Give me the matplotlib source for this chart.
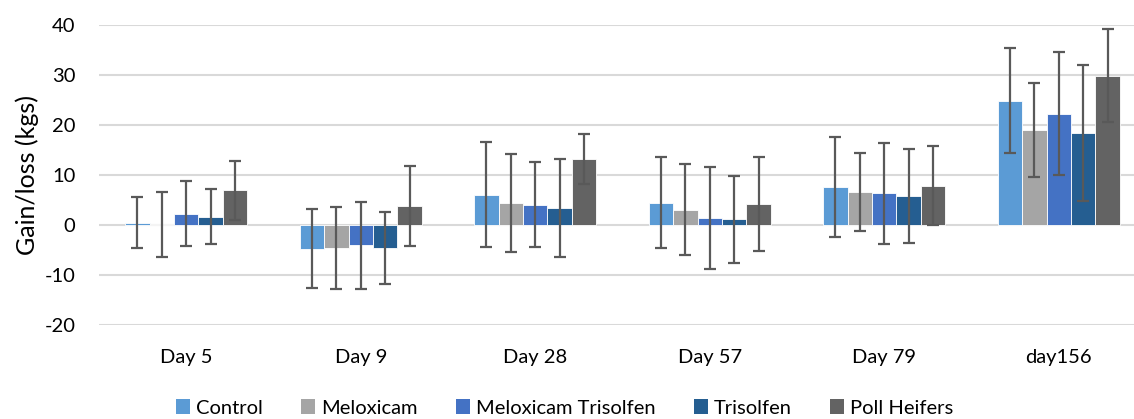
import matplotlib
matplotlib.use("Agg")
import matplotlib.pyplot as plt
from matplotlib.patches import Patch
import numpy as np

plt.rcParams['font.family'] = ['Lato', 'DejaVu Sans']
plt.rcParams['axes.unicode_minus'] = False

days = ["Day 5", "Day 9", "Day 28", "Day 57", "Day 79", "day156"]
series = ["Control", "Meloxicam", "Meloxicam Trisolfen", "Trisolfen", "Poll Heifers"]
colors = ["#5B9BD5", "#A5A5A5", "#4472C4", "#255E91", "#636363"]

control = [0.4, -4.75, 6.05, 4.4, 7.5, 24.85]
meloxicam = [0.1, -4.6, 4.3, 3.0, 6.55, 18.9]
melox_trisolfen = [2.2, -4.05, 4.0, 1.4, 6.3, 22.25]
trisolfen = [1.6, -4.6, 3.45, 1.15, 5.8, 18.3]
poll_heifers = [6.9, 3.7, 13.15, 4.15, 7.8, 29.85]

control_err = [5.1, 7.85, 10.45, 9.1, 10.0, 10.55]
meloxicam_err = [6.4, 8.1, 9.8, 9.1, 7.75, 9.4]
melox_trisolfen_err = [6.5, 8.65, 8.5, 10.1, 10.1, 12.25]
trisolfen_err = [5.5, 7.1, 9.75, 8.65, 9.4, 13.6]
poll_heifers_err = [5.9, 8.0, 4.95, 9.45, 7.9, 9.25]

values = [control, meloxicam, melox_trisolfen, trisolfen, poll_heifers]
errors = [control_err, meloxicam_err, melox_trisolfen_err, trisolfen_err, poll_heifers_err]

W, H = 1134, 419
fig = plt.figure(figsize=(W / 100, H / 100), dpi=100)
ax = fig.add_axes([99 / W, 1 - 325 / H, (1146 - 99) / W, 300 / H])

x = np.arange(len(days))
bw = 0.14
for i, (vals, errs, c, name) in enumerate(zip(values, errors, colors, series)):
    pos = x + (i - 2) * bw
    ax.bar(pos, vals, width=bw, color=c, edgecolor="white", linewidth=0.6,
           label=name, zorder=3)
    ax.errorbar(pos, vals, yerr=errs, fmt="none", ecolor="#595959",
                elinewidth=1.6, capsize=4.5, capthick=1.6, zorder=4)

fs = 14.5
ax.set_xlim(-0.5, len(days) - 0.5)
ax.set_ylim(-20, 40)
ax.set_yticks(range(-20, 41, 10))
ax.yaxis.grid(True, color="#D9D9D9", linewidth=1.5, zorder=0)
ax.set_axisbelow(True)
for s in ax.spines.values():
    s.set_visible(False)
ax.set_xticks(x)
ax.set_xticklabels(days)
ax.tick_params(axis="both", length=0, labelsize=fs, colors="#000000")
ax.tick_params(axis="y", pad=17)
ax.tick_params(axis="x", pad=17)
ax.set_ylabel("Gain/loss (kgs)", fontsize=18)
ax.yaxis.set_label_coords(-60 / (1146 - 99), 0.5)

handles = [Patch(facecolor=c, edgecolor="none") for c in colors]
fig.legend(handles, series, loc="center", bbox_to_anchor=(0.498, 1 - 408 / H),
           ncol=5, frameon=False, fontsize=fs, handlelength=0.7,
           handleheight=0.7, handletextpad=0.3, columnspacing=1.9)

fig.savefig("out.png", dpi=100)
